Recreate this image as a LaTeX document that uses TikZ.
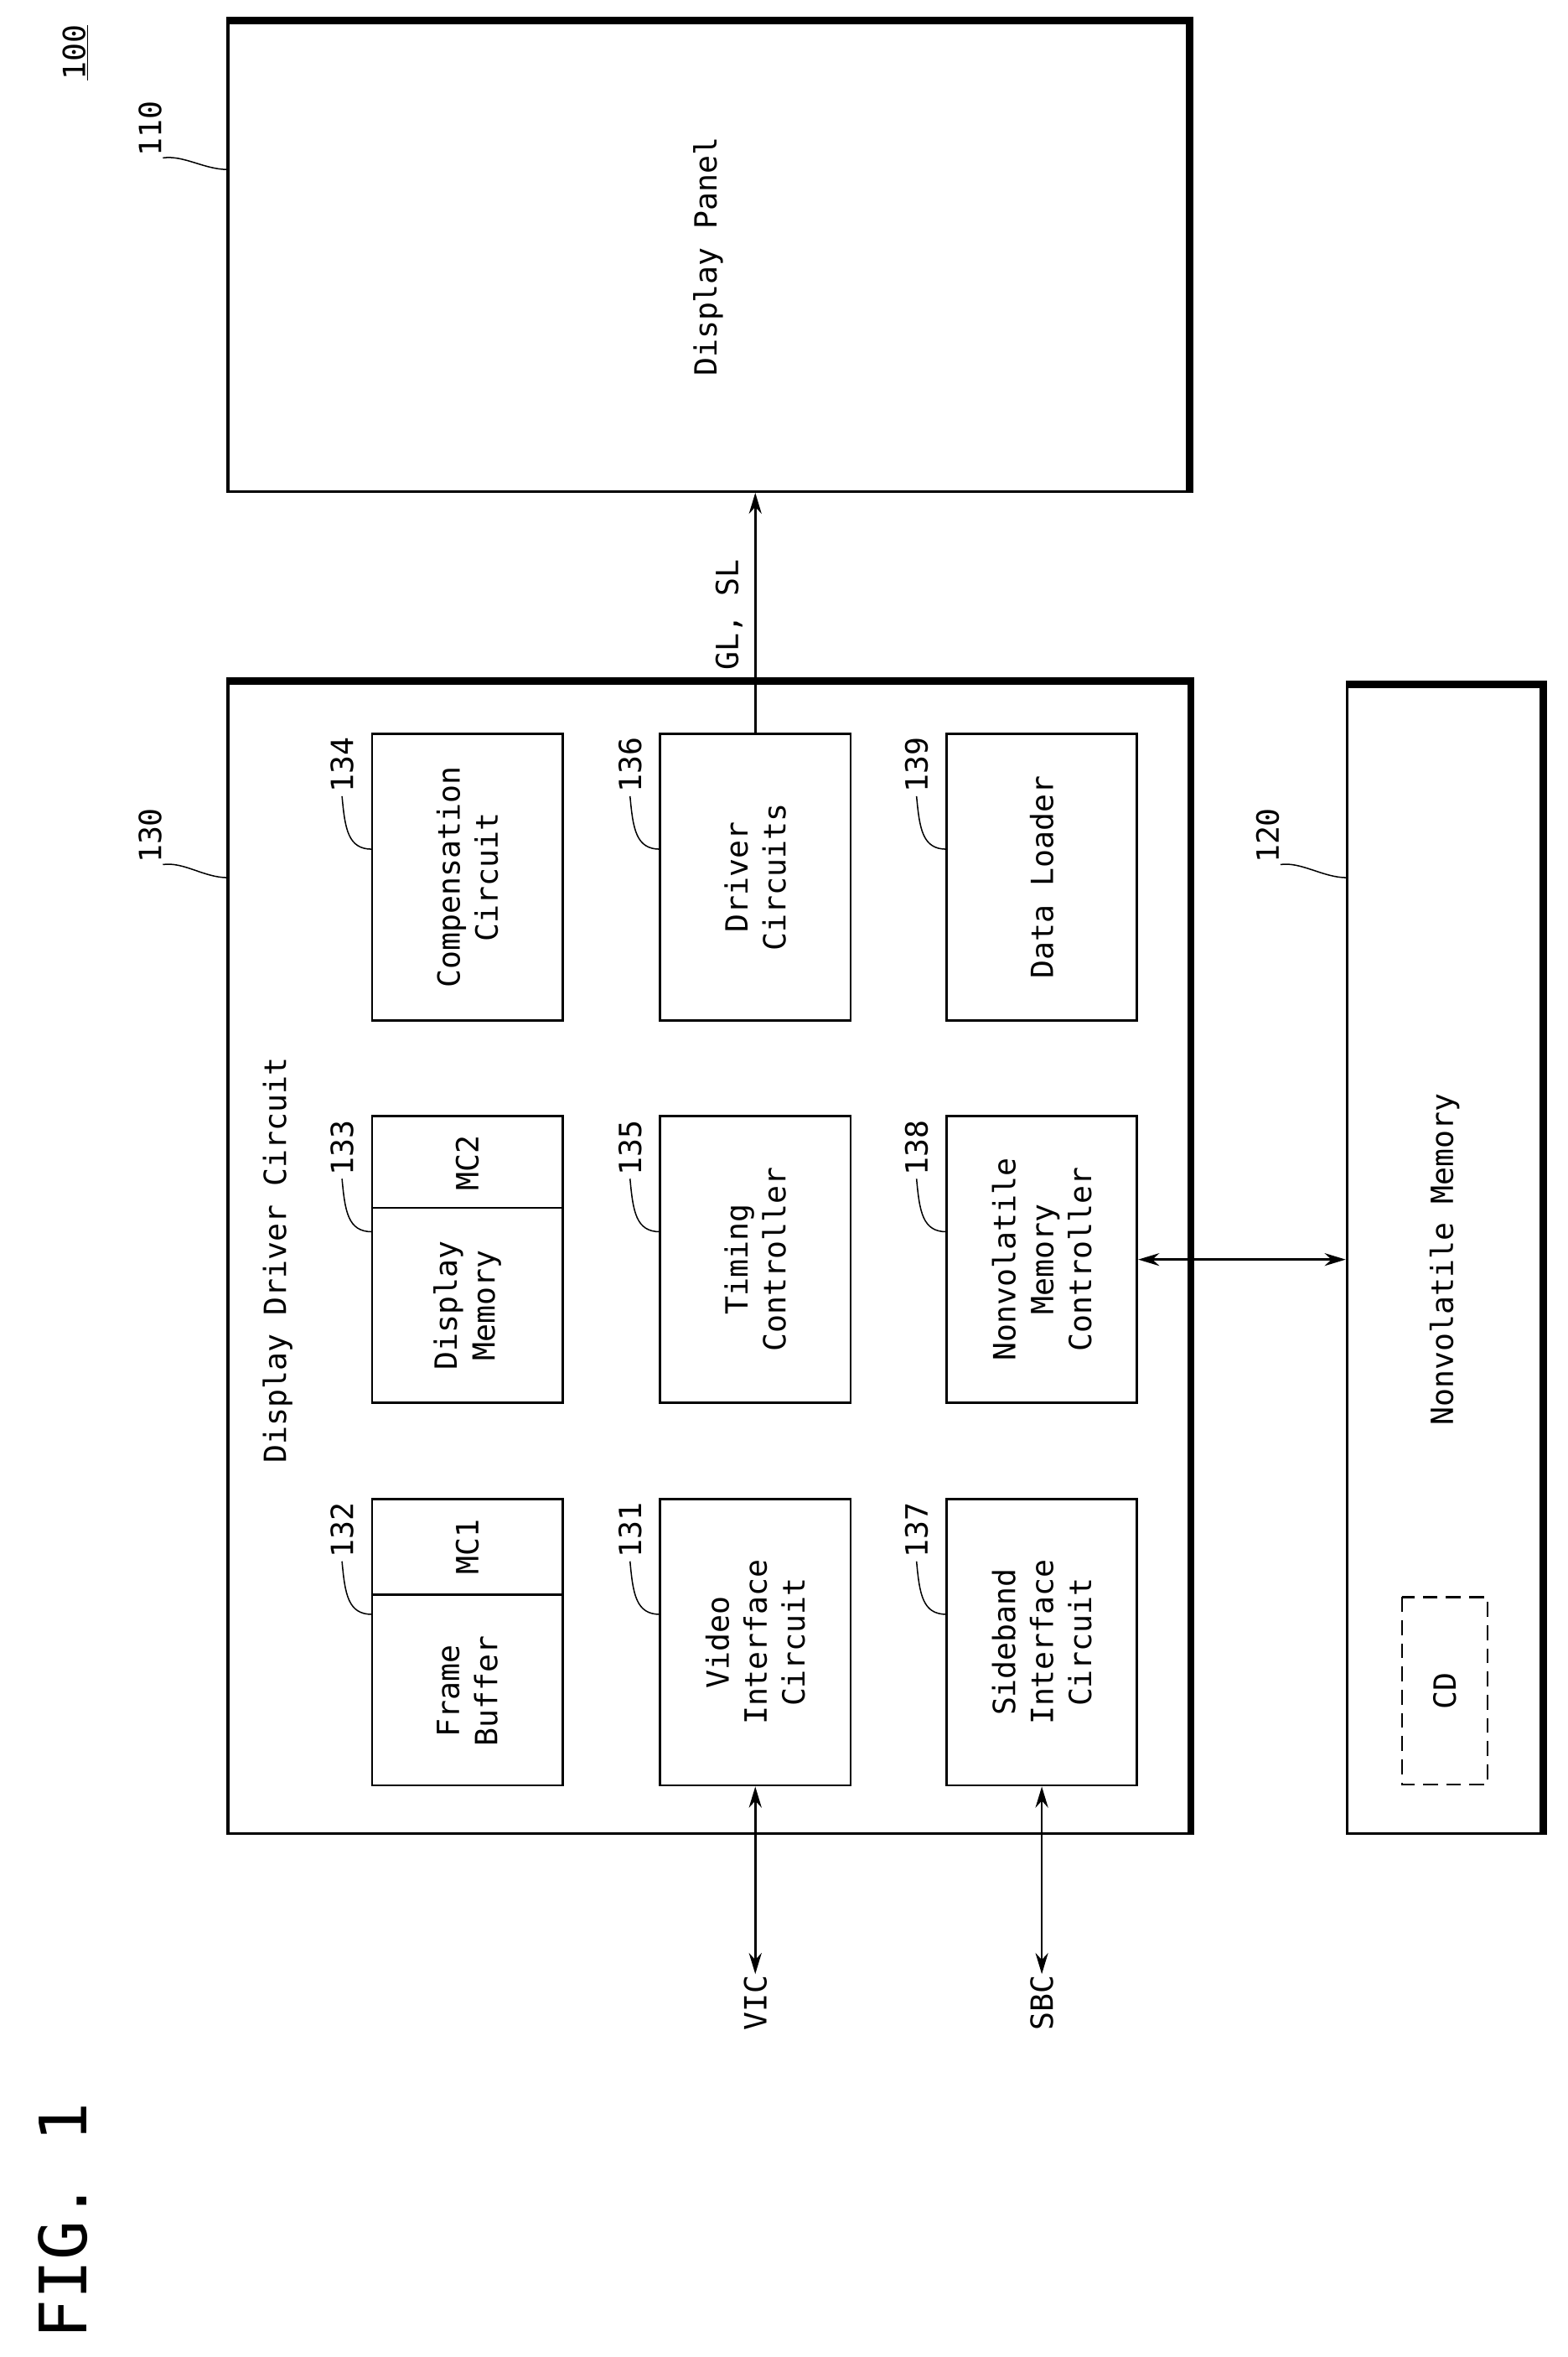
\documentclass[tikz,border=0pt]{standalone}
\usepackage{fontspec}
\setmonofont{DejaVu Sans Mono}
\usetikzlibrary{arrows.meta}

\tikzset{
  blk/.style={draw, line width=2.2pt, rotate=90, align=center, inner sep=0pt,
    minimum width=9.55cm, minimum height=6.35cm},
  big/.style={draw, line width=2.6pt, rotate=90, align=center, inner sep=0pt},
  rim/.style={line width=7pt},
  num/.style={rotate=90, inner sep=1pt},
  lead/.style={line width=1.2pt},
  sig/.style={line width=2pt, >={Stealth[length=20pt,width=12pt]}}
}
% leader from a reference number to the edge of its block
\newcommand\leader[3]{\draw[lead] ([yshift=-2pt]#1.west) .. controls +(2,22) and +(-16,0) .. (#2,#3);}
\newcommand\sideleader[3]{\draw[lead] (#1.south west) .. controls +(14,-2) and +(-16,0) .. (#2,#3);}

\begin{document}
\begin{tikzpicture}[x=0.05cm, y=-0.05cm, font=\fontsize{29}{36}\selectfont\ttfamily]
\useasboundingbox (0,0) rectangle (1045,1571);

% figure title and reference
\node[num, font=\fontsize{62}{70}\selectfont\ttfamily] (fig) at (42,1480) {FIG. 1};
\node[num] (ref) at (50,35) {\underline{100}};

% display panel
\node[big, minimum width=15.65cm, minimum height=32cm] (panel) at (472,171) {Display Panel};
\draw[rim] (panel.north east) -- (panel.south east) -- (panel.south west);
\node[num] (n110) at (100,86) {110};
\sideleader{n110}{152}{113}

% display driver circuit
\node[big, minimum width=38.35cm, minimum height=32.05cm] (ddc) at (472.5,838.5) {};
\draw[rim] (ddc.north east) -- (ddc.south east) -- (ddc.south west);
\node[num] (ddctitle) at (185,840) {Display Driver Circuit};
\node[num] (n130) at (100,557) {130};
\sideleader{n130}{152}{585}

% nonvolatile memory
\node[big, minimum width=38.25cm, minimum height=6.5cm] (nvm) at (963,839.5) {Nonvolatile Memory};
\draw[rim] (nvm.north east) -- (nvm.south east) -- (nvm.south west);
\node[num] (n120) at (845,557) {120};
\sideleader{n120}{898}{585}
\node[draw, dash pattern=on 14pt off 8pt, line width=1.8pt, rotate=90, minimum width=6.25cm, minimum height=2.85cm] (cd) at (963,1127) {CD};

% inner blocks
\node[blk] (b134) at (311.5,584.5) {Compensation\\Circuit};
\node[blk] (b133) at (311.5,839.5) {};
\node[num, align=center] (t133) at (311.5,870) {Display\\Memory};
\node[num] (mc2) at (311.5,775) {MC2};
\draw[line width=2.2pt] (b133.north west |- 0,805) -- (b133.south west |- 0,805);
\node[blk] (b132) at (311.5,1094.5) {};
\node[num, align=center] (t132) at (311.5,1127) {Frame\\Buffer};
\node[num] (mc1) at (311.5,1031) {MC1};
\draw[line width=2.2pt] (b132.north west |- 0,1063) -- (b132.south west |- 0,1063);
\node[blk] (b136) at (503.5,584.5) {Driver\\Circuits};
\node[blk] (b135) at (503.5,839.5) {Timing\\Controller};
\node[blk] (b131) at (503.5,1094.5) {Video\\Interface\\Circuit};
\node[blk] (b139) at (694.5,584.5) {Data Loader};
\node[blk] (b138) at (694.5,839.5) {Nonvolatile\\Memory\\Controller};
\node[blk] (b137) at (694.5,1094.5) {Sideband\\Interface\\Circuit};

% reference numbers
\node[num] (n134) at (228,510) {134};
\leader{n134}{248}{566}
\node[num] (n133) at (228,765) {133};
\leader{n133}{248}{821}
\node[num] (n132) at (228,1020) {132};
\leader{n132}{248}{1076}
\node[num] (n136) at (420,510) {136};
\leader{n136}{440}{566}
\node[num] (n135) at (420,765) {135};
\leader{n135}{440}{821}
\node[num] (n131) at (420,1020) {131};
\leader{n131}{440}{1076}
\node[num] (n139) at (611,510) {139};
\leader{n139}{631}{566}
\node[num] (n138) at (611,765) {138};
\leader{n138}{631}{821}
\node[num] (n137) at (611,1020) {137};
\leader{n137}{631}{1076}

% signals
\draw[sig, ->] (b136.east) -- (b136.east |- panel.west);
\node[num] (glsl) at (486,410) {GL, SL};
\draw[sig, <->] (b138.south) -- (b138.south -| nvm.north);
\node[num] (vic) at (503.5,1335) {VIC};
\draw[sig, <->] (b131.west) -- (vic.east);
\node[num] (sbc) at (694.5,1335) {SBC};
\draw[sig, <->] (b137.west) -- (sbc.east);
\end{tikzpicture}
\end{document}
